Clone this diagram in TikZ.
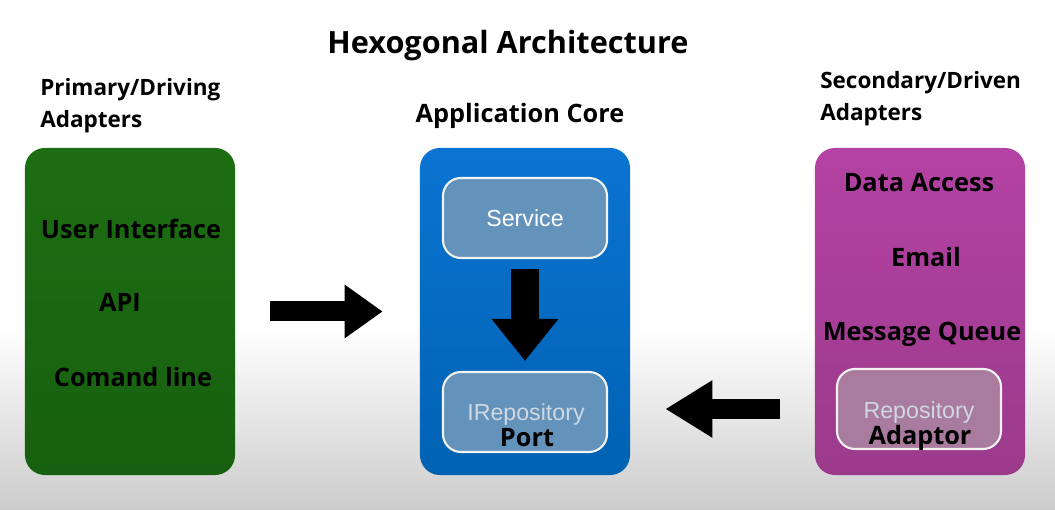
\documentclass[tikz,border=0pt]{standalone}
\usepackage{fontspec}
\setmainfont{Open Sans}
\newfontfamily\svcfont{Liberation Sans}
\usetikzlibrary{positioning,arrows.meta}
\definecolor{drivgreen}{HTML}{1D6E13}
\definecolor{drivgreendk}{HTML}{17600F}
\definecolor{coreblue}{HTML}{0B74D2}
\definecolor{corebluedk}{HTML}{0062B2}
\definecolor{drivenpink}{HTML}{B442A4}
\definecolor{drivenpinkdk}{HTML}{9B3A8B}
\definecolor{portfill}{HTML}{6392BA}
\definecolor{adaptfill}{HTML}{A97B9F}
\definecolor{softtext}{HTML}{D0D8E2}
\tikzset{
        % Big coloured panels
        panel/.style={rounded corners=0.5cm, minimum width=5.25cm, minimum height=8.175cm, inner sep=0pt},
        % Inner boxes
        innerbox/.style={rounded corners=0.45cm, draw=white!90!gray, line width=1.5pt, minimum width=4.1cm, minimum height=2cm},
        % Black bold labels
        lbl/.style={font=\bfseries\fontsize{18}{22.7}\selectfont, text=black, inner sep=0pt},
        % Headings above the panels
        headlbl/.style={lbl, font=\bfseries\fontsize{16}{22.7}\selectfont, align=left, anchor=west},
        % Light labels inside inner boxes
        boxlbl/.style={font=\svcfont\fontsize{16.5}{19}\selectfont, inner sep=0pt},
        % Block arrows
        blockarrow/.style={draw=black, line width=#1}
}

\begin{document}
\begin{tikzpicture}[x=0.025cm, y=-0.025cm]
    \useasboundingbox (0,0) rectangle (1055,510);
    \fill[white] (0,0) rectangle (1055,330);
    \shade[top color=white, bottom color=gray!40] (0,330) rectangle (1055,510);

    \node[lbl, font=\bfseries\fontsize{21.8}{26}\selectfont] (title) at (508,46) {Hexogonal Architecture};

    % Panels
    \node[panel, top color=drivgreen, bottom color=drivgreendk] (primary) at (130,311.5) {};
    \node[panel, top color=coreblue, bottom color=corebluedk] (core) at (525,311.5) {};
    \node[panel, top color=drivenpink, bottom color=drivenpinkdk] (secondary) at (920,311.5) {};

    % Headings
    \node[headlbl] (primaryhead) at (40,106) {Primary/Driving\\Adapters};
    \node[lbl] (corehead) at (520,116) {Application Core};
    \node[headlbl] (secondaryhead) at (820,99) {Secondary/Driven\\Adapters};

    % Driving adapters
    \node[lbl] (ui) at (131,229) {User Interface};
    \node[lbl] (api) at (120,302) {API};
    \node[lbl] (cli) at (133,377) {Comand line};

    % Driven adapters
    \node[lbl] (data) at (919,183) {Data Access};
    \node[lbl] (email) at (926,257) {Email};
    \node[lbl] (queue) at (922,334) {Message Queue};

    % Inner boxes
    \node[innerbox, fill=portfill] (service) at (525,218) {};
    \node[boxlbl, text=white] at (service) {Service};
    \node[innerbox, fill=portfill] (irepo) at (525,412) {};
    \node[boxlbl, text=softtext] at (526,415) {IRepository};
    \node[lbl] at (527,438) {Port};
    \node[innerbox, fill=adaptfill] (adaptor) at (919,409) {};
    \node[boxlbl, text=softtext] at (919,413) {Repository};
    \node[lbl] at (920,438) {Adaptor};

    % Arrows
    \draw[blockarrow=0.5cm, -{Triangle[length=0.95cm, width=1.275cm]}, shorten <=0.875cm, shorten >=0.925cm]
        (primary.east) -- (core.west);
    \draw[blockarrow=0.7cm, -{Triangle[length=1.05cm, width=1.6cm]}, shorten <=0.25cm, shorten >=0.25cm]
        (service.south) -- (irepo.north);
    \draw[blockarrow=0.5cm, -{Triangle[length=1.175cm, width=1.35cm]}, shorten <=0.875cm, shorten >=0.875cm]
        (secondary.west |- adaptor) -- (core.east |- adaptor);
\end{tikzpicture}
\end{document}
